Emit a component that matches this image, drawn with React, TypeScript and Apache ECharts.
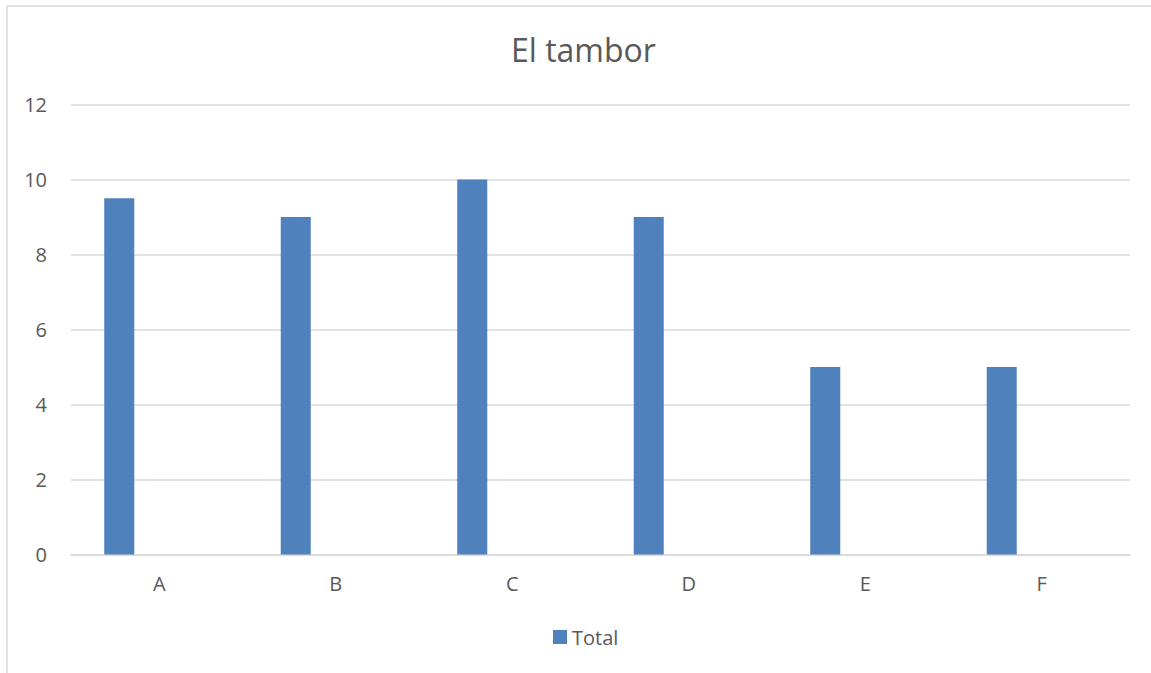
import React, { useEffect, useRef } from "react";
import * as echarts from "echarts";

const title = "El tambor";
const categories = ["A", "B", "C", "D", "E", "F"];
const totals = [9.5, 9, 10, 9, 5, 5];
const seriesName = "Total";
const yMin = 0;
const yMax = 12;
const yInterval = 2;

const FONT = "'Open Sans', Lato, sans-serif";
const TEXT = "#595959";
const GRID = "#d9d9d9";
const BAR = "#4f81bd";

export default function App() {
  const ref = useRef<HTMLDivElement>(null);
  useEffect(() => {
    if (!ref.current) return;
    const chart = echarts.init(ref.current, undefined, { renderer: "svg" });
    chart.setOption({
      animation: false,
      backgroundColor: "#ffffff",
      textStyle: { fontFamily: FONT },
      graphic: [
        {
          type: "rect",
          shape: { x: 7, y: 6, width: 1160, height: 700 },
          style: { fill: "none", stroke: GRID, lineWidth: 1.5 },
          silent: true,
        },
      ],
      title: {
        text: title,
        left: 506,
        top: 28,
        textStyle: { fontFamily: FONT, fontSize: 32, fontWeight: "normal", color: TEXT },
      },
      legend: {
        data: [seriesName],
        bottom: 21,
        left: 548,
        itemWidth: 14,
        itemHeight: 14,
        itemGap: 6,
        icon: "rect",
        textStyle: { fontFamily: FONT, fontSize: 20, color: TEXT },
      },
      grid: { left: 71, right: 21, top: 104.5, bottom: 118.5, containLabel: false },
      xAxis: {
        type: "category",
        data: categories,
        axisLine: { lineStyle: { color: GRID, width: 1.5 } },
        axisTick: { show: false },
        axisLabel: { color: TEXT, fontSize: 20, fontFamily: FONT, margin: 19 },
      },
      yAxis: {
        type: "value",
        min: yMin,
        max: yMax,
        interval: yInterval,
        axisLine: { show: false },
        axisTick: { show: false },
        splitLine: { lineStyle: { color: GRID, width: 1.5 } },
        axisLabel: { color: TEXT, fontSize: 20, fontFamily: FONT, margin: 24 },
      },
      series: [
        {
          name: seriesName,
          type: "bar",
          data: totals,
          barWidth: 30,
          barGap: "166.7%",
          itemStyle: { color: BAR },
        },
        {
          name: "_empty",
          type: "bar",
          data: categories.map(() => null),
          barWidth: 30,
          itemStyle: { color: "#c0504d" },
        },
      ],
    });
    return () => chart.dispose();
  }, []);
  return (
    <div
      ref={ref}
      style={{ position: "fixed", left: 0, top: 0, width: 1151, height: 673 }}
    />
  );
}
